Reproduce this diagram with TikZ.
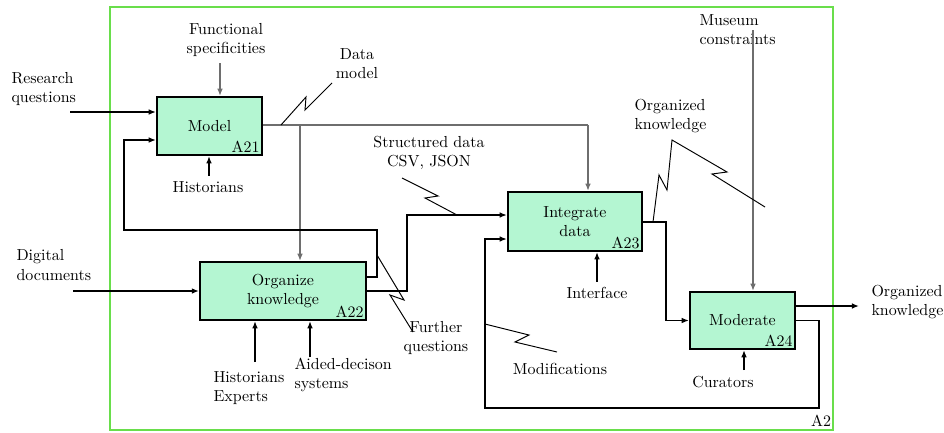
\documentclass[tikz,border=0pt]{standalone}
\usetikzlibrary{arrows.meta}
\definecolor{boxgreen}{RGB}{180,246,210}
\definecolor{framegreen}{RGB}{105,222,75}
\definecolor{ctrlgray}{RGB}{110,110,110}
\begin{document}
\begin{tikzpicture}[x=0.022cm,y=-0.022cm,
        >={Latex[length=4.5pt,width=3.6pt]},
        activity/.style={draw,line width=1.4pt,fill=boxgreen,align=center},
        flow/.style={line width=1.1pt,->},
        ctrl/.style={line width=1.1pt,ctrlgray,->},
        bolt/.style={line width=0.6pt},
        lbl/.style={align=left,inner sep=2pt}]
        \useasboundingbox (0,0) rectangle (944,432);
        % Frame of A2
        \draw[framegreen,line width=1.3pt] (110,7) rectangle (833,430);
        \node (a2) at (821,421) {A2};

        % Activities
        \node[activity,minimum width=2.31cm,minimum height=1.276cm] (model) at (209.5,126) {Model};
        \node[activity,minimum width=3.65cm,minimum height=1.276cm] (org) at (283,291) {Organize\\knowledge};
        \node[activity,minimum width=2.95cm,minimum height=1.3cm] (integ) at (575,221.5) {Integrate\\data};
        \node[activity,minimum width=2.31cm,minimum height=1.254cm] (mod) at (742.5,320.5) {Moderate};
        \foreach \n/\t in {model/A21,org/A22,integ/A23,mod/A24}
        {
            \node[anchor=south east,inner sep=2pt] (\n-id) at (\n.south east) {\t};
        }

        % Inputs
        \node[lbl,anchor=west] (rq) at (8,89) {Research\\questions};
        \coordinate (rqin) at (70,112);
        \draw[flow] (rqin) -- (model.west |- rqin);
        \node[lbl,anchor=west] (dd) at (13,265) {Digital\\documents};
        \coordinate (ddin) at (73,291);
        \draw[flow] (ddin) -- (org.west);

        % Controls
        \node[align=center] (fs) at (226,40) {Functional\\specificities};
        \coordinate (fsout) at (220,63);
        \draw[ctrl] (fsout) -- (fsout |- model.north);
        \node[lbl,anchor=west] (mc) at (696,30) {Museum\\constraints};
        \coordinate (mcin) at (753,30);
        \draw[ctrl] (mcin) -- (mcin |- mod.north);
        \draw[ctrl,-] (model.east |- 0,125) -- (588,125);
        \draw[ctrl] (588,125) -- (integ.north -| 588,0);
        \draw[ctrl] (300,125) -- (org.north -| 300,0);

        % Mechanisms
        \node (hist) at (208,187) {Historians};
        \draw[flow] (hist.north -| 209,0) -- (model.south -| 209,0);
        \node[lbl,anchor=west] (hexp) at (210,388) {Historians\\Experts};
        \coordinate (hexpout) at (255,362);
        \draw[flow] (hexpout) -- (hexpout |- org.south);
        \node[lbl,anchor=west] (aid) at (291,375) {Aided-decison\\systems};
        \coordinate (aidout) at (310,357);
        \draw[flow] (aidout) -- (aidout |- org.south);
        \node (iface) at (597,293) {Interface};
        \draw[flow] (iface.north) -- (iface.north |- integ.south);
        \node (cur) at (723,382) {Curators};
        \coordinate (curout) at (744,370);
        \draw[flow] (curout) -- (curout |- mod.south);

        % Outputs and feedback
        \draw[flow] (org.east) -- (407,291) -- (407,215) -- (integ.west |- 0,215);
        \draw[flow] (org.east |- 0,277) -- (377,277) -- (377,230) -- (124,230) -- (124,140) -- (model.west |- 0,140);
        \draw[flow] (integ.east |- 0,222) -- (666,222) |- (mod.west);
        \draw[flow] (mod.east) -- (819,320.5) -- (819,408) -- (485,408) -- (485,239) -- (integ.west |- 0,239);
        \coordinate (okout) at (859,306);
        \draw[flow] (mod.east |- okout) -- (okout);
        \node[lbl,anchor=west] (ok) at (868,302) {Organized\\knowledge};

        % Labels of the arrows
        \node[align=center] (dm) at (357,64) {Data\\model};
        \draw[bolt] (281,125) -- (306,97) -- (305,110) -- (332,83);
        \node[align=center] (sd) at (429,153) {Structured data\\CSV, JSON};
        \draw[bolt] (402,178) -- (438,196) -- (425,198) -- (457,215);
        \node[lbl,anchor=west] (okn) at (631,116) {Organized\\knowledge};
        \draw[bolt] (653,222) -- (659,175) -- (667,190) -- (672,140) -- (727,172) -- (712,174) -- (765,207);
        \node[align=center] (fq) at (436,338) {Further\\questions};
        \draw[bolt] (377,255) -- (404,300) -- (390,295) -- (413,332);
        \node (modif) at (560,369) {Modifications};
        \draw[bolt] (485,324) -- (529,335) -- (515,342) -- (557,352);
    \end{tikzpicture}
\end{document}
